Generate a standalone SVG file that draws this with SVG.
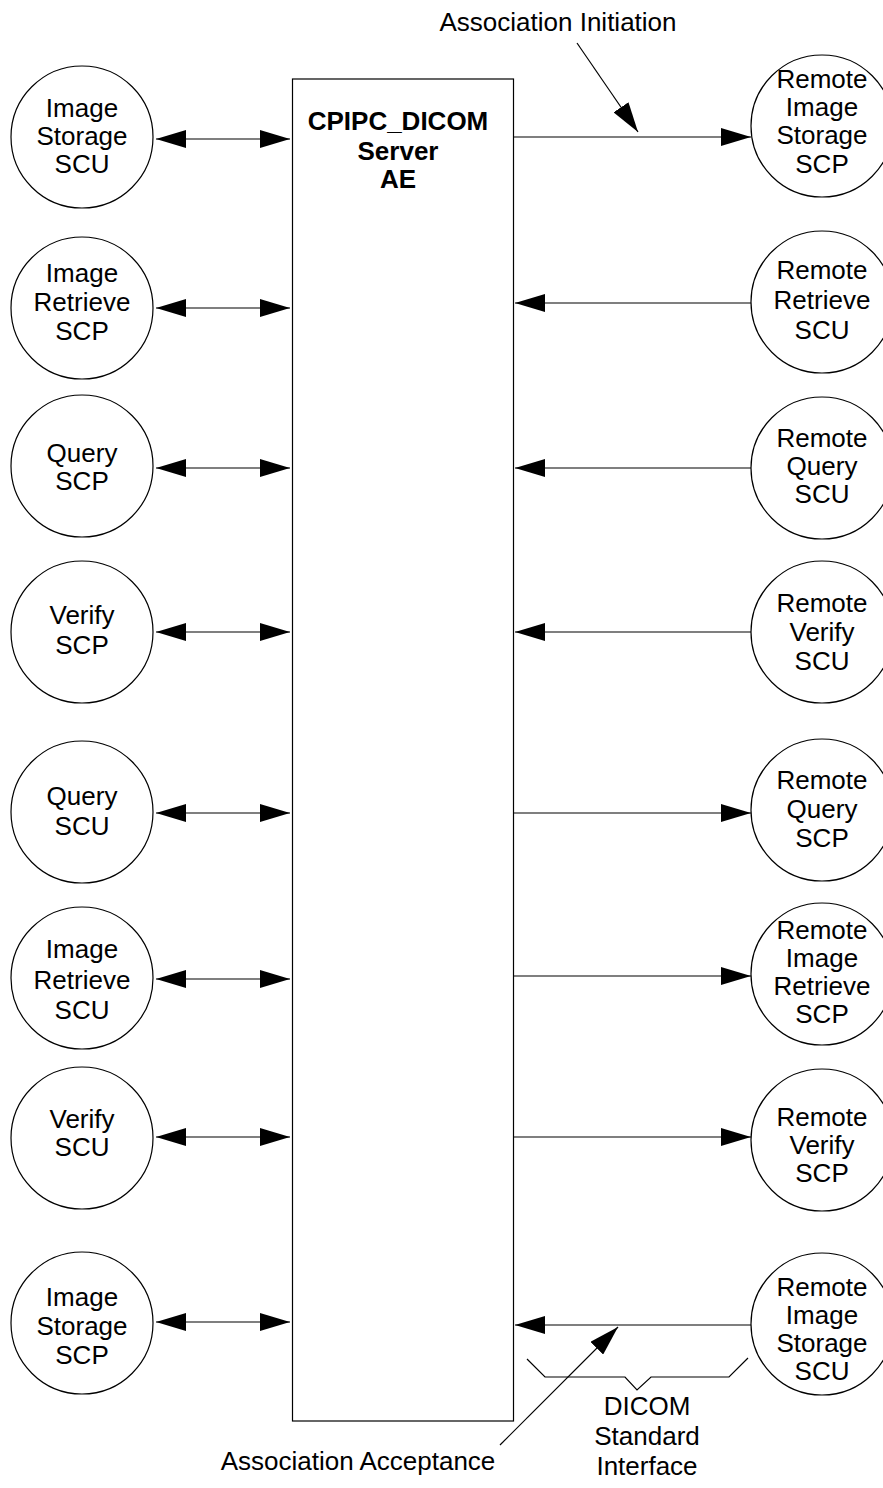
<svg xmlns="http://www.w3.org/2000/svg" width="883" height="1488" viewBox="0 0 883 1488">
<style>
text{font-family:"Liberation Sans",Arial,sans-serif;font-size:26px;fill:#000;text-anchor:middle}
.b{font-weight:bold}
.n circle,.n rect{fill:#fff;stroke:#000;stroke-width:1.2}
.c line,.c polyline{stroke:#000;stroke-width:1.2;fill:none}
</style>
<defs>
<marker id="ah" markerUnits="userSpaceOnUse" viewBox="0 0 30 18" refX="30" refY="9" markerWidth="30" markerHeight="18" orient="auto-start-reverse">
<path d="M0,0 L30,9 L0,18 z" fill="#000"/>
</marker>
</defs>
<rect x="0" y="0" width="883" height="1488" fill="#fff"/>

<g id="server" class="n">
<rect x="292.5" y="79" width="221" height="1342"/>
<text class="b" x="398" y="130">CPIPC_DICOM</text>
<text class="b" x="398" y="160">Server</text>
<text class="b" x="398" y="188">AE</text>
</g>

<g id="l1" class="n"><circle cx="82" cy="137" r="71"/><text x="82" y="117">Image</text><text x="82" y="145">Storage</text><text x="82" y="173">SCU</text></g>
<g id="l2" class="n"><circle cx="82" cy="308" r="71"/><text x="82" y="282">Image</text><text x="82" y="311">Retrieve</text><text x="82" y="340">SCP</text></g>
<g id="l3" class="n"><circle cx="82" cy="466" r="71"/><text x="82" y="462">Query</text><text x="82" y="490">SCP</text></g>
<g id="l4" class="n"><circle cx="82" cy="632" r="71"/><text x="82" y="624">Verify</text><text x="82" y="654">SCP</text></g>
<g id="l5" class="n"><circle cx="82" cy="812" r="71"/><text x="82" y="805">Query</text><text x="82" y="835">SCU</text></g>
<g id="l6" class="n"><circle cx="82" cy="978" r="71"/><text x="82" y="958">Image</text><text x="82" y="989">Retrieve</text><text x="82" y="1019">SCU</text></g>
<g id="l7" class="n"><circle cx="82" cy="1138" r="71"/><text x="82" y="1128">Verify</text><text x="82" y="1156">SCU</text></g>
<g id="l8" class="n"><circle cx="82" cy="1323" r="71"/><text x="82" y="1306">Image</text><text x="82" y="1335">Storage</text><text x="82" y="1364">SCP</text></g>

<g id="r1" class="n"><circle cx="822" cy="126" r="71"/><text x="822" y="88">Remote</text><text x="822" y="116">Image</text><text x="822" y="144">Storage</text><text x="822" y="173">SCP</text></g>
<g id="r2" class="n"><circle cx="822" cy="302" r="71"/><text x="822" y="279">Remote</text><text x="822" y="309">Retrieve</text><text x="822" y="339">SCU</text></g>
<g id="r3" class="n"><circle cx="822" cy="468" r="71"/><text x="822" y="447">Remote</text><text x="822" y="475">Query</text><text x="822" y="503">SCU</text></g>
<g id="r4" class="n"><circle cx="822" cy="632" r="71"/><text x="822" y="612">Remote</text><text x="822" y="641">Verify</text><text x="822" y="670">SCU</text></g>
<g id="r5" class="n"><circle cx="822" cy="810" r="71"/><text x="822" y="789">Remote</text><text x="822" y="818">Query</text><text x="822" y="847">SCP</text></g>
<g id="r6" class="n"><circle cx="822" cy="974" r="71"/><text x="822" y="939">Remote</text><text x="822" y="967">Image</text><text x="822" y="995">Retrieve</text><text x="822" y="1023">SCP</text></g>
<g id="r7" class="n"><circle cx="822" cy="1140" r="71"/><text x="822" y="1126">Remote</text><text x="822" y="1154">Verify</text><text x="822" y="1182">SCP</text></g>
<g id="r8" class="n"><circle cx="822" cy="1324" r="71"/><text x="822" y="1296">Remote</text><text x="822" y="1324">Image</text><text x="822" y="1352">Storage</text><text x="822" y="1380">SCU</text></g>

<g id="connectors" class="c">
<line x1="156" y1="139" x2="290" y2="139" marker-start="url(#ah)" marker-end="url(#ah)"/>
<line x1="156" y1="308" x2="290" y2="308" marker-start="url(#ah)" marker-end="url(#ah)"/>
<line x1="156" y1="468" x2="290" y2="468" marker-start="url(#ah)" marker-end="url(#ah)"/>
<line x1="156" y1="632" x2="290" y2="632" marker-start="url(#ah)" marker-end="url(#ah)"/>
<line x1="156" y1="813" x2="290" y2="813" marker-start="url(#ah)" marker-end="url(#ah)"/>
<line x1="156" y1="979" x2="290" y2="979" marker-start="url(#ah)" marker-end="url(#ah)"/>
<line x1="156" y1="1137" x2="290" y2="1137" marker-start="url(#ah)" marker-end="url(#ah)"/>
<line x1="156" y1="1322" x2="290" y2="1322" marker-start="url(#ah)" marker-end="url(#ah)"/>

<line x1="514" y1="137" x2="751" y2="137" marker-end="url(#ah)"/>
<line x1="751" y1="303" x2="515" y2="303" marker-end="url(#ah)"/>
<line x1="751" y1="468" x2="515" y2="468" marker-end="url(#ah)"/>
<line x1="751" y1="632" x2="515" y2="632" marker-end="url(#ah)"/>
<line x1="514" y1="813" x2="751" y2="813" marker-end="url(#ah)"/>
<line x1="514" y1="976" x2="751" y2="976" marker-end="url(#ah)"/>
<line x1="514" y1="1137" x2="751" y2="1137" marker-end="url(#ah)"/>
<line x1="751" y1="1325" x2="515" y2="1325" marker-end="url(#ah)"/>

<line x1="577" y1="43" x2="638" y2="132" marker-end="url(#ah)"/>
<line x1="500" y1="1445" x2="618" y2="1327" marker-end="url(#ah)"/>
<polyline points="527,1359 545,1377 625,1377 637,1390 651,1377 729,1377 748,1358"/>
</g>

<g id="labels">
<text x="558" y="31">Association Initiation</text>
<text x="358" y="1470">Association Acceptance</text>
<text x="647" y="1415">DICOM</text>
<text x="647" y="1445">Standard</text>
<text x="647" y="1475">Interface</text>
</g>
</svg>
